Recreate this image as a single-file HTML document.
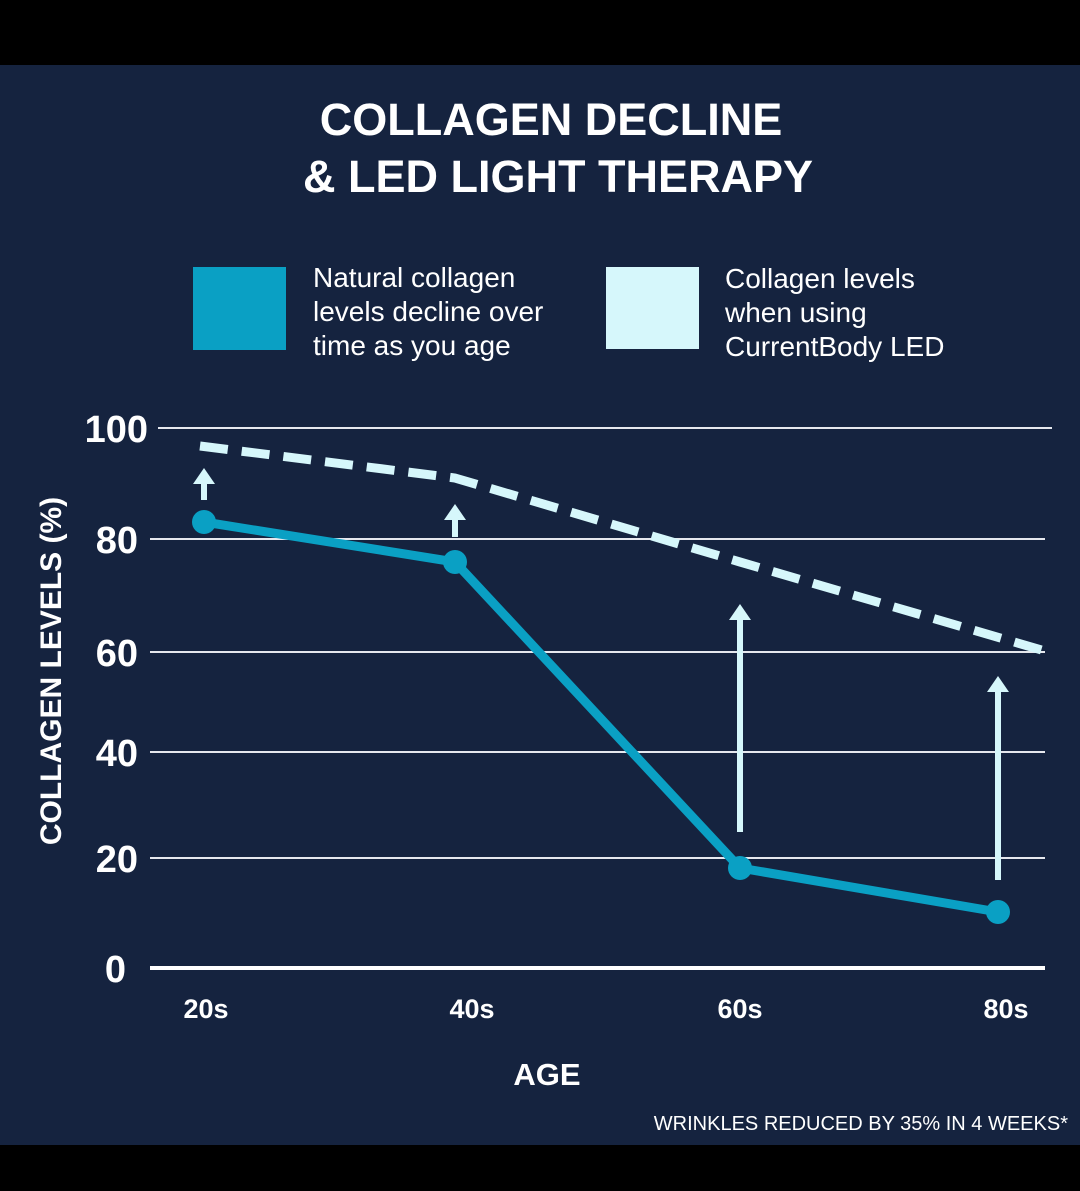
<!DOCTYPE html>
<html><head><style>
body{margin:0;background:#000;}
svg{display:block;font-family:"Liberation Sans",sans-serif;}
</style></head><body>
<svg width="1080" height="1191" viewBox="0 0 1080 1191">
<rect x="0" y="0" width="1080" height="1191" fill="#000"/>
<rect x="0" y="65" width="1080" height="1080" fill="#15233f"/>
<g fill="#fff" font-weight="bold" font-size="45" text-anchor="middle">
<text x="551" y="135">COLLAGEN DECLINE</text>
<text x="558" y="192">&amp; LED LIGHT THERAPY</text>
</g>
<rect x="193" y="267" width="93" height="83" fill="#0aa0c4"/>
<rect x="606" y="267" width="93" height="82" fill="#d6f7fb"/>
<g fill="#fff" font-size="28">
<text x="313" y="287">Natural collagen</text>
<text x="313" y="321">levels decline over</text>
<text x="313" y="355">time as you age</text>
<text x="725" y="288">Collagen levels</text>
<text x="725" y="322">when using</text>
<text x="725" y="356">CurrentBody LED</text>
</g>
<g stroke="#e6e8ee" stroke-width="2">
<line x1="158" y1="428" x2="1052" y2="428"/>
<line x1="150" y1="539" x2="1045" y2="539"/>
<line x1="150" y1="652" x2="1045" y2="652"/>
<line x1="150" y1="752" x2="1045" y2="752"/>
<line x1="150" y1="858" x2="1045" y2="858"/>
</g>
<line x1="150" y1="968" x2="1045" y2="968" stroke="#fff" stroke-width="4"/>
<g fill="#fff" font-weight="bold" font-size="38" text-anchor="end">
<text x="148" y="442">100</text>
<text x="138" y="553">80</text>
<text x="138" y="666">60</text>
<text x="138" y="766">40</text>
<text x="138" y="872">20</text>
<text x="126" y="982">0</text>
</g>
<text transform="translate(61,671) rotate(-90)" fill="#fff" font-weight="bold" font-size="30" text-anchor="middle">COLLAGEN LEVELS (%)</text>
<g fill="#fff" font-weight="bold" font-size="27" text-anchor="middle">
<text x="206" y="1018">20s</text>
<text x="472" y="1018">40s</text>
<text x="740" y="1018">60s</text>
<text x="1006" y="1018">80s</text>
<text x="547" y="1085" font-size="31">AGE</text>
</g>
<text x="1068" y="1130" fill="#fff" font-size="20" text-anchor="end">WRINKLES REDUCED BY 35% IN 4 WEEKS*</text>
<polyline points="200,446 455,478 740,562 1045,651" fill="none" stroke="#d6f7fb" stroke-width="9" stroke-dasharray="28,14"/>
<g stroke="#d6f7fb" stroke-width="6" fill="#d6f7fb">
<line x1="204" y1="500" x2="204" y2="482"/>
<polygon points="193,484 215,484 204,468" stroke="none"/>
<line x1="455" y1="537" x2="455" y2="518"/>
<polygon points="444,520 466,520 455,504" stroke="none"/>
<line x1="740" y1="832" x2="740" y2="618"/>
<polygon points="729,620 751,620 740,604" stroke="none"/>
<line x1="998" y1="880" x2="998" y2="690"/>
<polygon points="987,692 1009,692 998,676" stroke="none"/>
</g>
<polyline points="204,522 455,562 740,868 998,912" fill="none" stroke="#0aa0c4" stroke-width="9" stroke-linejoin="round"/>
<g fill="#0aa0c4">
<circle cx="204" cy="522" r="12"/>
<circle cx="455" cy="562" r="12"/>
<circle cx="740" cy="868" r="12"/>
<circle cx="998" cy="912" r="12"/>
</g>
</svg>
</body></html>
